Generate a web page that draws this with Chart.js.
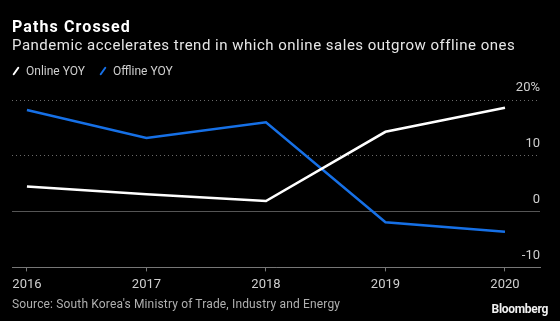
<!DOCTYPE html>
<html>
<head>
<meta charset="utf-8">
<script src="https://cdn.jsdelivr.net/npm/chart.js@4"></script>
<style>
  html, body { margin: 0; padding: 0; background: #000; }
  body { width: 560px; height: 321px; position: relative; overflow: hidden; font-family: Roboto, "Noto Sans", sans-serif; }
  #wrap { position: absolute; left: 0; top: 0; width: 560px; height: 321px; }
  .title { position: absolute; left: 12px; top: 19px; font-size: 16px; line-height: 16px; font-weight: bold; color: #fff; letter-spacing: 1.1px; }
  .subtitle { position: absolute; left: 12px; top: 38px; font-size: 15px; line-height: 15px; color: #e6e6e6; letter-spacing: 0.5px; }
  .legend { position: absolute; left: 0; top: 65px; font-size: 12px; line-height: 12px; color: #cfcfcf; white-space: nowrap; }
  .legend span.item { position: absolute; top: 0; }
  .legend i { display: inline-block; width: 2px; height: 10px; margin: 0 9px -1px 3px; transform: rotate(35deg); border-radius: 1px; }
  .source { position: absolute; left: 12px; top: 298px; font-size: 12px; line-height: 12px; color: #b0b0b0; letter-spacing: 0.15px; }
  .brand { position: absolute; right: 12px; top: 303px; font-size: 12px; line-height: 12px; font-weight: bold; color: #f0f0f0; letter-spacing: -0.3px; }
</style>
</head>
<body>
<div id="wrap"><canvas id="chart" width="560" height="321"></canvas></div>
<div class="title">Paths Crossed</div>
<div class="subtitle">Pandemic accelerates trend in which online sales outgrow offline ones</div>
<div class="legend">
  <span class="item" style="left:12px"><i style="background:#ffffff"></i>Online YOY</span>
  <span class="item" style="left:99px"><i style="background:#1670e6"></i>Offline YOY</span>
</div>
<div class="source">Source: South Korea's Ministry of Trade, Industry and Energy</div>
<div class="brand">Bloomberg</div>

<script>
const years = [2016, 2017, 2018, 2019, 2020];
const onlineYoy = [4.5, 3.1, 1.9, 14.3, 18.6];
const offlineYoy = [18.2, 13.2, 16.0, -1.9, -3.6];
const yTicks = [-10, 0, 10, 20];

const toPoints = vals => years.map((yr, i) => ({ x: yr, y: vals[i] }));

const ctx = document.getElementById('chart').getContext('2d');

new Chart(ctx, {
  type: 'line',
  data: {
    datasets: [
      {
        label: 'Online YOY',
        data: toPoints(onlineYoy),
        borderColor: '#ffffff',
        borderWidth: 2.5,
        pointRadius: 0,
        tension: 0
      },
      {
        label: 'Offline YOY',
        data: toPoints(offlineYoy),
        borderColor: '#1670e6',
        borderWidth: 2.5,
        pointRadius: 0,
        tension: 0
      }
    ]
  },
  options: {
    responsive: false,
    animation: false,
    layout: { padding: { top: 100, left: 12, right: 20, bottom: 22 } },
    plugins: {
      legend: { display: false },
      tooltip: { enabled: false }
    },
    scales: {
      x: {
        type: 'linear',
        min: 2015.875,
        max: 2020.293,
        afterBuildTicks: scale => { scale.ticks = years.map(v => ({ value: v })); },
        grid: {
          drawOnChartArea: false,
          drawTicks: true,
          tickLength: 4,
          tickColor: '#777'
        },
        border: { display: true, color: '#777', width: 1 },
        ticks: {
          color: '#cfcfcf',
          font: { family: 'Roboto', size: 13 },
          padding: 6,
          maxRotation: 0,
          callback: v => String(v)
        }
      },
      y: {
        position: 'right',
        min: -10,
        max: 20,
        afterBuildTicks: scale => { scale.ticks = yTicks.map(v => ({ value: v })); },
        grid: {
          drawTicks: false,
          color: c => (c.tick && c.tick.value > 0 ? '#6a6a6a' : '#555'),
          lineWidth: 1
        },
        border: {
          display: false,
          dash: c => (c.tick && c.tick.value > 0 ? [1, 3] : [])
        },
        ticks: {
          mirror: true,
          padding: 0,
          labelOffset: -12,
          color: '#cfcfcf',
          font: { family: 'Roboto', size: 13 },
          callback: v => (v === 20 ? '20%' : String(v))
        }
      }
    }
  }
});
</script>
</body>
</html>
